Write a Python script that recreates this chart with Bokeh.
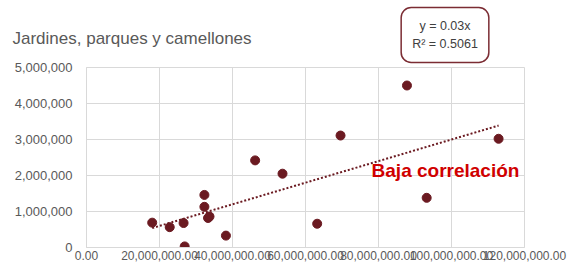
from bokeh.plotting import figure
from bokeh.models import Range1d, FixedTicker, NumeralTickFormatter, Label
from bokeh.embed import file_html
from bokeh.resources import INLINE

# ---- data ----
title_text = "Jardines, parques y camellones"
x_vals = [18.0e6, 22.8e6, 26.6e6, 26.9e6, 32.3e6, 32.3e6, 33.3e6, 33.7e6,
          38.2e6, 46.2e6, 53.7e6, 63.2e6, 69.6e6, 87.8e6, 93.2e6, 112.9e6]
y_vals = [0.69e6, 0.565e6, 0.68e6, 0.03e6, 1.46e6, 1.13e6, 0.82e6, 0.86e6,
          0.33e6, 2.42e6, 2.05e6, 0.66e6, 3.11e6, 4.50e6, 1.38e6, 3.02e6]
x_ticks = [0, 20e6, 40e6, 60e6, 80e6, 100e6, 120e6]
y_ticks = [0, 1e6, 2e6, 3e6, 4e6, 5e6]
trend_slope = 0.03
eq_text = "y = 0.03x\nR² = 0.5061"
note_text = "Baja correlación"

DARK = "#6B1A21"
GRID = "#d9d9d9"
FONT = "Liberation Sans"
W, H = 580, 264

# ---- main chart ----
p = figure(width=W, height=H, output_backend="svg", toolbar_location=None,
           x_range=Range1d(0, 120e6), y_range=Range1d(0, 5e6),
           min_border_left=86, min_border_right=56, min_border_top=67,
           min_border_bottom=17)
p.outline_line_color = GRID
p.background_fill_color = "white"
p.border_fill_color = "white"

p.xaxis.ticker = FixedTicker(ticks=x_ticks)
p.yaxis.ticker = FixedTicker(ticks=y_ticks)
p.xaxis.formatter = NumeralTickFormatter(format="0,0.00")
p.yaxis.formatter = NumeralTickFormatter(format="0,0")
for ax in (p.xaxis, p.yaxis):
    ax.axis_line_color = GRID
    ax.major_tick_line_color = None
    ax.minor_tick_line_color = None
    ax.major_tick_out = 0
    ax.major_tick_in = 0
    ax.minor_tick_out = 0
    ax.major_label_text_color = "#595959"
    ax.major_label_text_font = FONT
p.yaxis.major_label_text_font_size = "13px"
p.yaxis.major_label_standoff = 14
p.xaxis.major_label_text_font_size = "12px"
p.xaxis.major_label_standoff = 3
p.xgrid.grid_line_color = GRID
p.ygrid.grid_line_color = GRID
p.xgrid.ticker = FixedTicker(ticks=x_ticks)
p.ygrid.ticker = FixedTicker(ticks=y_ticks)

# trendline through origin
tx = [min(x_vals), max(x_vals)]
ty = [trend_slope * v for v in tx]
p.line(tx, ty, line_color=DARK, line_width=2, line_dash="2 2")

p.scatter(x_vals, y_vals, size=9, fill_color=DARK, line_color=DARK)

p.add_layout(Label(x=78.1e6, y=2.145e6, text=note_text, text_font=FONT,
                   text_font_size="19px", text_font_style="bold",
                   text_color="#D00000", text_baseline="middle",
                   text_align="left"))

# ---- transparent overlay (pixel coordinates) for the title and equation box ----
ov = figure(width=W, height=H, output_backend="svg", toolbar_location=None,
            x_range=Range1d(0, W), y_range=Range1d(H, 0),
            x_axis_type=None, y_axis_type=None, min_border=0,
            styles={"position": "absolute", "top": "0px", "left": "0px"})
ov.outline_line_color = None
ov.xgrid.visible = False
ov.ygrid.visible = False
ov.background_fill_color = None
ov.border_fill_color = None

ov.add_layout(Label(x=12, y=38, text=title_text, text_font=FONT,
                    text_font_size="17px", text_color="#595959",
                    text_baseline="alphabetic", text_align="left"))
ov.add_layout(Label(x=444.5, y=34.5, text=eq_text, text_font=FONT,
                    text_font_size="12.5px", text_color="#404040",
                    text_align="center", text_baseline="middle",
                    text_line_height=1.35,
                    border_line_color="#7B2C33", border_line_width=1.5,
                    border_radius=10, background_fill_color="white",
                    padding=11))

open("out.html", "w").write(file_html([p, ov], INLINE))
